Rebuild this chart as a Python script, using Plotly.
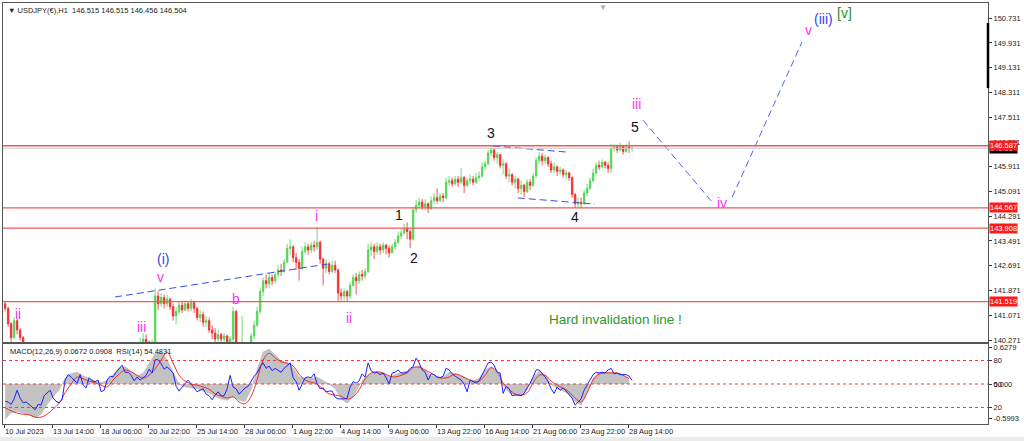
import plotly.graph_objects as go

# ---------------- data ----------------
bars_per_candle = 4          # each drawn candle summarises 4 H1 bars
first_open = 141.45

close = [
    141.30, 140.80, 140.35, 140.90, 140.60, 140.35, 140.05, 140.00, 139.80, 139.60,
    139.30, 139.10, 138.80, 138.90, 138.60, 138.30, 138.10, 137.80, 137.50, 137.40,
    137.90, 138.10, 138.00, 137.90, 138.10, 138.40, 138.20, 138.10, 138.40, 138.50,
    138.45, 138.60, 138.40, 138.50, 138.80, 138.95, 138.90, 139.20, 139.50, 139.80,
    139.70, 139.75, 139.60, 139.50, 139.80, 139.95, 140.30, 140.20, 140.00, 140.10,
    141.70, 141.45, 141.65, 141.45, 141.60, 141.35, 141.05, 141.20, 141.40, 141.25,
    141.45, 141.30, 141.50, 141.30, 141.00, 141.10, 140.85, 140.90, 140.60, 140.50,
    140.30, 140.45, 140.30, 140.40, 140.20, 140.30, 141.20, 139.90, 139.20, 139.60,
    139.50, 139.80, 140.40, 140.75, 141.20, 141.85, 142.20, 142.10, 142.30, 142.20,
    142.40, 142.55, 142.50, 142.80, 143.25, 143.30, 142.95, 142.80, 142.60, 143.15,
    143.30, 143.20, 143.35, 143.30, 143.45, 142.90, 142.60, 142.75, 142.50, 142.70,
    142.55, 141.80, 141.70, 141.85, 141.70, 142.05, 142.30, 142.20, 142.40, 142.35,
    142.50, 143.20, 143.30, 143.15, 143.30, 143.20, 143.35, 143.25, 143.10, 143.30,
    143.45, 143.65, 143.75, 143.90, 143.80, 143.55, 144.50, 144.65, 144.75, 144.60,
    144.70, 144.55, 144.80, 144.90, 144.80, 144.95, 144.90, 145.40, 145.45, 145.35,
    145.50, 145.40, 145.55, 145.30, 145.45, 145.50, 145.40, 145.55, 145.60, 145.90,
    146.00, 146.35, 146.45, 146.20, 146.30, 145.95, 146.00, 145.60, 145.65, 145.40,
    145.50, 145.20, 145.30, 145.10, 145.40, 145.30, 145.60, 146.10, 146.25, 146.10,
    146.20, 146.00, 145.80, 145.90, 145.75, 145.80, 145.65, 145.70, 145.55, 145.00,
    144.70, 144.75, 144.70, 145.05, 145.20, 145.45, 145.70, 145.95, 145.90, 146.05,
    145.95, 145.85, 146.50, 146.55, 146.45, 146.60, 146.40, 146.55, 146.50, 146.504,
]

high = [
    141.55, 141.35, 140.85, 141.00, 140.95, 140.65, 140.40, 140.20, 140.05, 139.85,
    139.65, 139.40, 139.15, 139.05, 138.95, 138.70, 138.40, 138.15, 137.85, 137.65,
    138.05, 138.30, 138.25, 138.10, 138.25, 138.55, 138.45, 138.30, 138.55, 138.65,
    138.65, 138.75, 138.65, 138.65, 138.95, 139.10, 139.10, 139.30, 139.65, 139.95,
    139.90, 139.90, 139.80, 139.70, 139.95, 140.35, 140.50, 140.45, 140.25, 140.30,
    141.95, 141.85, 141.80, 141.75, 141.75, 141.65, 141.45, 141.35, 141.50, 141.55,
    141.55, 141.55, 141.60, 141.55, 141.35, 141.25, 141.20, 141.05, 141.00, 140.75,
    140.65, 140.60, 140.50, 140.50, 140.45, 140.40, 141.35, 141.25, 139.90, 141.05,
    140.10, 140.10, 140.50, 140.90, 141.35, 141.95, 142.30, 142.40, 142.45, 142.40,
    142.50, 142.70, 142.75, 142.90, 143.40, 143.55, 143.35, 143.10, 142.90, 143.30,
    143.45, 143.40, 143.45, 143.50, 143.94, 143.50, 142.95, 142.90, 142.80, 142.85,
    142.85, 142.60, 141.95, 141.95, 141.90, 142.15, 142.40, 142.45, 142.50, 142.55,
    142.60, 143.40, 143.45, 143.40, 143.45, 143.40, 143.45, 143.40, 143.35, 143.40,
    143.55, 143.80, 143.90, 144.05, 144.10, 143.85, 144.60, 144.82, 144.90, 144.85,
    144.85, 144.75, 144.95, 145.05, 145.20, 145.05, 145.05, 145.55, 145.60, 145.55,
    145.60, 145.60, 145.85, 145.60, 145.55, 145.65, 145.60, 145.70, 145.75, 146.05,
    146.10, 146.45, 146.56, 146.50, 146.40, 146.30, 146.15, 146.05, 145.85, 145.70,
    145.60, 145.55, 145.45, 145.35, 145.50, 145.50, 145.70, 146.20, 146.38, 146.35,
    146.30, 146.25, 146.10, 146.05, 145.95, 145.90, 145.85, 145.80, 145.75, 145.60,
    145.05, 144.90, 144.90, 145.15, 145.35, 145.55, 145.85, 146.05, 146.10, 146.15,
    146.10, 146.05, 146.65, 146.65, 146.62, 146.68, 146.60, 146.65, 146.72, 146.60,
]

low = [
    141.20, 140.70, 140.15, 140.30, 140.45, 140.25, 139.90, 139.85, 139.65, 139.45,
    139.15, 138.95, 138.70, 138.70, 138.45, 138.15, 137.95, 137.70, 137.40, 137.25,
    137.35, 137.85, 137.85, 137.75, 137.80, 138.05, 138.10, 137.95, 138.05, 138.35,
    138.30, 138.40, 138.30, 138.35, 138.45, 138.75, 138.75, 138.85, 139.15, 139.45,
    139.55, 139.60, 139.45, 139.40, 139.45, 139.75, 139.90, 140.05, 139.85, 139.85,
    140.00, 141.25, 141.35, 141.30, 141.35, 141.25, 140.90, 140.80, 141.10, 141.15,
    141.20, 141.20, 141.20, 141.15, 140.90, 140.85, 140.70, 140.70, 140.50, 140.30,
    140.20, 140.20, 140.15, 140.10, 140.05, 140.10, 140.20, 139.50, 138.50, 139.10,
    139.20, 139.40, 139.80, 140.30, 140.70, 141.10, 141.70, 141.95, 141.95, 142.05,
    142.10, 142.30, 142.35, 142.45, 142.80, 143.05, 142.80, 142.55, 142.20, 142.55,
    143.05, 143.05, 143.10, 143.15, 143.20, 142.75, 142.05, 142.45, 142.40, 142.45,
    142.45, 141.55, 141.55, 141.55, 141.52, 141.60, 142.00, 141.75, 142.10, 142.20,
    142.25, 142.45, 143.00, 142.90, 143.05, 143.05, 143.10, 143.05, 142.95, 143.10,
    143.20, 143.40, 143.55, 143.70, 143.55, 143.26, 143.50, 144.40, 144.55, 144.50,
    144.50, 144.40, 144.50, 144.70, 144.70, 144.75, 144.75, 144.85, 145.30, 145.25,
    145.30, 145.25, 145.35, 145.05, 145.25, 145.35, 145.30, 145.35, 145.45, 145.55,
    145.80, 145.95, 146.25, 146.10, 146.00, 145.85, 145.65, 145.50, 145.40, 145.30,
    145.20, 145.05, 145.00, 144.92, 145.05, 145.15, 145.25, 145.55, 146.00, 145.95,
    146.00, 145.90, 145.70, 145.70, 145.60, 145.65, 145.55, 145.50, 145.45, 144.90,
    144.56, 144.57, 144.56, 144.65, 144.95, 145.15, 145.40, 145.65, 145.80, 145.85,
    145.85, 145.70, 145.70, 146.40, 146.35, 146.40, 146.30, 146.35, 146.35, 146.40,
]

rsi = [
    28, 27, 24, 31, 42, 32, 26, 27, 24, 21,
    17, 24, 23, 35, 38, 42, 32, 28, 26, 30,
    55, 62, 59, 55, 51, 62, 49, 45, 58, 54,
    53, 55, 40, 42, 55, 60, 59, 65, 70, 74,
    65, 65, 61, 54, 59, 55, 58, 61, 69, 64,
    81, 81, 76, 69, 72, 68, 64, 47, 41, 46,
    51, 55, 50, 45, 40, 42, 44, 37, 35, 30,
    36, 40, 35, 35, 44, 61, 46, 44, 37, 41,
    45, 47, 54, 60, 64, 72, 77, 70, 73, 67,
    70, 68, 65, 70, 74, 77, 58, 53, 42, 50,
    58, 59, 58, 63, 50, 44, 45, 40, 41, 41,
    33, 31, 31, 31, 32, 46, 53, 51, 54, 63,
    59, 77, 67, 64, 65, 62, 64, 58, 50, 64,
    65, 68, 64, 64, 65, 70, 72, 83, 77, 68,
    65, 55, 63, 62, 59, 58, 60, 70, 68, 63,
    60, 58, 55, 50, 40, 55, 53, 51, 54, 62,
    70, 77, 78, 74, 65, 64, 38, 47, 44, 35,
    36, 36, 35, 38, 45, 51, 59, 68, 68, 64,
    59, 53, 44, 38, 46, 42, 45, 41, 37, 32,
    23, 27, 31, 42, 49, 55, 62, 65, 64, 65,
    64, 68, 70, 63, 64, 62, 62, 62, 60, 54.48,
]

macd_step = 8                # MACD values read every 8 bars
macd_main = [
    -0.60, -0.50, -0.47, -0.50, -0.53, -0.58, -0.52, -0.35, -0.22, -0.10,
    0.10, 0.18, 0.20, 0.14, 0.10, 0.05, 0.02, 0.06, 0.16, 0.28,
    0.30, 0.22, 0.14, 0.18, 0.35, 0.52, 0.56, 0.42, 0.20, 0.00,
    -0.05, -0.06, -0.08, -0.12, -0.16, -0.22, -0.26, -0.28, -0.22, -0.28,
    -0.30, -0.10, 0.25, 0.55, 0.60, 0.50, 0.40, 0.36, 0.28, 0.12,
    0.10, 0.10, 0.12, 0.06, 0.00, -0.08, -0.25, -0.33, -0.22, -0.02,
    0.12, 0.18, 0.20, 0.18, 0.12, 0.16, 0.20, 0.22, 0.28, 0.32,
    0.24, 0.14, 0.12, 0.12, 0.20, 0.18, 0.14, 0.08, 0.05, 0.10,
    0.24, 0.30, 0.20, -0.02, -0.15, -0.20, -0.20, -0.10, 0.12, 0.22,
    0.16, 0.00, -0.08, -0.12, -0.18, -0.30, -0.36, -0.15, 0.10, 0.20,
    0.20, 0.20, 0.18, 0.16, 0.0672,
]
macd_signal = [
    -0.41, -0.46, -0.50, -0.52, -0.53, -0.57, -0.57, -0.52, -0.43, -0.33,
    -0.15, 0.00, 0.12, 0.09, 0.05, 0.02, -0.02, -0.05, 0.07, 0.17,
    0.24, 0.21, 0.15, 0.10, 0.15, 0.26, 0.41, 0.55, 0.36, 0.15,
    0.05, 0.00, -0.02, -0.05, -0.09, -0.17, -0.21, -0.24, -0.22, -0.31,
    -0.34, -0.21, 0.07, 0.41, 0.53, 0.45, 0.38, 0.36, 0.31, 0.17,
    0.07, 0.03, 0.00, -0.09, -0.17, -0.19, -0.21, -0.26, -0.22, -0.10,
    0.09, 0.19, 0.21, 0.19, 0.14, 0.12, 0.15, 0.19, 0.28, 0.29,
    0.24, 0.19, 0.12, 0.10, 0.12, 0.17, 0.14, 0.09, 0.05, 0.05,
    0.15, 0.28, 0.21, 0.02, -0.09, -0.17, -0.19, -0.15, 0.02, 0.15,
    0.15, 0.05, -0.02, -0.07, -0.14, -0.24, -0.31, -0.15, 0.07, 0.17,
    0.19, 0.19, 0.19, 0.15, 0.0908,
]

x_tick_bars = [0, 64, 128, 192, 256, 320, 384, 448, 512, 576, 640, 704, 768, 832]
x_tick_labels = ["10 Jul 2023", "13 Jul 14:00", "18 Jul 06:00", "20 Jul 22:00",
                 "25 Jul 14:00", "28 Jul 06:00", "1 Aug 22:00", "4 Aug 14:00",
                 "9 Aug 06:00", "13 Aug 22:00", "16 Aug 14:00", "21 Aug 06:00",
                 "23 Aug 22:00", "28 Aug 14:00"]
price_ticks = [150.731, 149.931, 149.131, 148.311, 147.511, 146.711, 145.911,
               145.091, 144.291, 143.491, 142.691, 141.871, 141.071, 140.271]
levels = [146.587, 144.567, 143.908, 141.519]
last_price = 146.504
rsi_levels = [80, 50, 20]
macd_ticks = [0.6279, 0.0, -0.5993]
macd_tick_labels = ["0.6279", "0.000", "-0.5993"]

# dashed wave lines (bar index, price)
trend_bars, trend_prices = [148, 431], [141.67, 142.74]
tri_up_bars, tri_up_prices = [652, 751], [146.58, 146.38]
tri_lo_bars, tri_lo_prices = [685, 788], [144.89, 144.69]
proj1_bars, proj1_prices = [852, 944], [147.42, 144.76]
proj2_bars, proj2_prices = [971, 1064], [144.92, 149.96]

PINK, BLUE, BLACK, GREEN = "#f535f5", "#3447e0", "#111111", "#2a8f2a"
wave_text = ["ii", "iii", "v", "(i)", "b", "i", "ii", "1", "2", "3", "4", "5",
             "iii", "iv", "v", "(iii)", "[v]"]
wave_bar = [19, 183, 209, 212, 309, 416, 460, 527, 547, 649, 761, 841,
            843, 957, 1072, 1092, 1121]
wave_price = [141.12, 140.68, 142.32, 142.91, 141.61, 144.30, 140.99, 144.34,
              142.94, 147.00, 144.27, 147.20, 147.94, 144.72, 150.35, 150.71, 150.90]
wave_color = [PINK, PINK, PINK, BLUE, PINK, PINK, PINK, BLACK, BLACK, BLACK,
              BLACK, BLACK, PINK, PINK, PINK, BLUE, GREEN]

# ---------------- figure ----------------
FONT = "Liberation Sans, Arial, sans-serif"
n = len(close)
opens = [first_open] + close[:-1]
xc = [bars_per_candle * k + 1.5 for k in range(n)]
xm = [macd_step * j + 1.5 for j in range(len(macd_main))]

fig = go.Figure()
fig.add_trace(go.Candlestick(
    x=xc, open=opens, high=high, low=low, close=close,
    increasing=dict(line=dict(color="#52d352", width=0.8), fillcolor="#52d352"),
    decreasing=dict(line=dict(color="#f02a2a", width=0.8), fillcolor="#f02a2a"),
    whiskerwidth=0, xaxis="x", yaxis="y", showlegend=False))

for bx, py, col in [(trend_bars, trend_prices, "#3a4de6"),
                    (tri_up_bars, tri_up_prices, "#3a4de6"),
                    (tri_lo_bars, tri_lo_prices, "#3a4de6"),
                    (proj1_bars, proj1_prices, "#5363ee"),
                    (proj2_bars, proj2_prices, "#5363ee")]:
    fig.add_trace(go.Scatter(x=bx, y=py, mode="lines", xaxis="x", yaxis="y",
                             line=dict(color=col, width=1, dash="7px,4px"),
                             showlegend=False, hoverinfo="skip"))

fig.add_trace(go.Scatter(x=xm, y=macd_main, mode="lines", fill="tozeroy",
                         fillcolor="#c2c2c2", line=dict(color="#b0b0b0", width=0.5),
                         xaxis="x2", yaxis="y2", showlegend=False))
fig.add_trace(go.Scatter(x=xm, y=macd_signal, mode="lines",
                         line=dict(color="#f03030", width=1, shape="spline"),
                         xaxis="x2", yaxis="y2", showlegend=False))
fig.add_trace(go.Scatter(x=xc, y=rsi, mode="lines",
                         line=dict(color="#1f1fff", width=1),
                         xaxis="x2", yaxis="y3", showlegend=False))

shapes = []
shapes.append(dict(type="line", xref="paper", yref="y", x0=0, x1=1,
                   y0=last_price, y1=last_price, line=dict(color="#cccccc", width=1)))
for lv in levels:
    shapes.append(dict(type="line", xref="paper", yref="y", x0=0, x1=1,
                       y0=lv, y1=lv, line=dict(color="#f25858", width=1.3)))
for rl in rsi_levels:
    shapes.append(dict(type="line", xref="paper", yref="y3", x0=0, x1=1,
                       y0=rl, y1=rl, line=dict(color="#ff3333", width=1, dash="3px,3px")))
# scroll marker on the price scale
shapes.append(dict(type="line", xref="paper", yref="y", x0=1, x1=1,
                   y0=150.58, y1=148.46, line=dict(color="#000000", width=2.5)))
# light grey strip below the chart
shapes.append(dict(type="rect", xref="paper", yref="paper", x0=-0.01, x1=1.05,
                   y0=-0.06, y1=-0.031, fillcolor="#ececec", line=dict(width=0),
                   layer="below"))

ann = []
for t, b, p, c in zip(wave_text, wave_bar, wave_price, wave_color):
    ann.append(dict(x=b, y=p, xref="x", yref="y", text=t, showarrow=False,
                    font=dict(family=FONT, size=14, color=c)))
ann.append(dict(x=814.7, y=140.93, xref="x", yref="y", text="Hard invalidation line !",
                showarrow=False, font=dict(family=FONT, size=13.5, color="#2a9a2a")))
ann.append(dict(x=0, y=1, xref="paper", yref="paper", xanchor="left", yanchor="top",
                xshift=3, yshift=-1, showarrow=False,
                text="\u25bc USDJPY(\u20ac),H1\u00a0\u00a0146.515 146.515 146.456 146.504",
                font=dict(family=FONT, size=7.5, color="#222")))
ann.append(dict(x=0, y=1, xref="paper", yref="y2 domain", xanchor="left", yanchor="top",
                xshift=5, yshift=-1, showarrow=False,
                text="MACD(12,26,9) 0.0672 0.0908\u00a0\u00a0RSI(14) 54.4831",
                font=dict(family=FONT, size=7.5, color="#222")))
ann.append(dict(x=798.7, y=1, xref="x", yref="paper", yanchor="top", yshift=2,
                showarrow=False, text="\u25bc", font=dict(size=8, color="#a8a8a8")))
# price labels on the right scale
ann.append(dict(x=1, y=last_price, xref="paper", yref="y", xanchor="left", xshift=1,
                showarrow=False, text=f"{last_price:.3f}", bgcolor="#000000",
                borderpad=0, font=dict(family=FONT, size=7.5, color="#ffffff")))
for lv in levels:
    ann.append(dict(x=1, y=lv, xref="paper", yref="y", xanchor="left", xshift=1,
                    showarrow=False, text=f"{lv:.3f}", bgcolor="#ff1a1a",
                    borderpad=0, font=dict(family=FONT, size=7.5, color="#ffffff")))

axis_common = dict(showgrid=False, zeroline=False, showline=True, mirror=True,
                   linecolor="#555555", linewidth=1, automargin=False)
main_bottom = (424 - 342) / 421
sub_top = (424 - 344) / 421

fig.update_layout(
    width=1024, height=441, margin=dict(l=3, r=36, t=3, b=17, autoexpand=False),
    paper_bgcolor="white", plot_bgcolor="white", showlegend=False,
    font=dict(family=FONT, size=7.5, color="#222"),
    xaxis=dict(domain=[0, 1], anchor="y", range=[-1.33, 1312], showticklabels=False,
               ticks="", rangeslider=dict(visible=False), **axis_common),
    yaxis=dict(domain=[main_bottom, 1], anchor="x", side="right",
               range=[140.206, 151.228], tickvals=price_ticks, tickformat=".3f",
               ticks="outside", ticklen=3, tickcolor="#333",
               tickfont=dict(family=FONT, size=7.5, color="#222"), **axis_common),
    xaxis2=dict(domain=[0, 1], anchor="y2", matches="x", tickvals=x_tick_bars,
                ticktext=x_tick_labels, ticks="outside", ticklen=3, tickcolor="#333",
                ticklabelposition="outside right", tickangle=0,
                tickfont=dict(family=FONT, size=7.5, color="#222"),
                rangeslider=dict(visible=False), **axis_common),
    yaxis2=dict(domain=[0, sub_top], anchor="x2", side="right", range=[-0.688, 0.688],
                tickvals=macd_ticks, ticktext=macd_tick_labels, ticks="outside",
                ticklen=3, tickcolor="#333",
                tickfont=dict(family=FONT, size=7.5, color="#222"), **axis_common),
    yaxis3=dict(overlaying="y2", anchor="x2", side="right", range=[-1.1, 101.1],
                tickvals=rsi_levels, ticks="outside", ticklen=3, tickcolor="#333",
                tickfont=dict(family=FONT, size=7.5, color="#222"),
                showgrid=False, zeroline=False, showline=False, automargin=False),
    shapes=shapes, annotations=ann,
)

fig.write_html("out.html", config={"displayModeBar": False},
               post_script="document.body.style.margin='0';")
